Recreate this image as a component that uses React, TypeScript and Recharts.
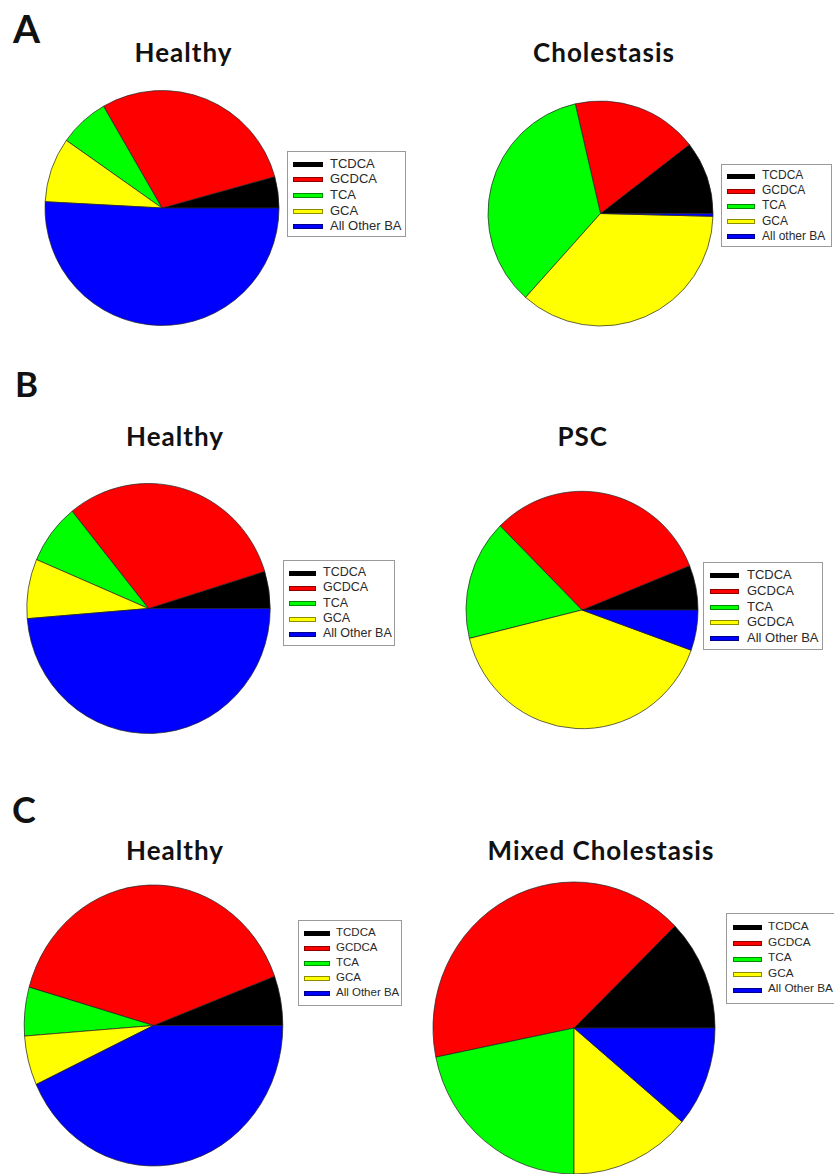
import React from "react";
import { PieChart, Pie, Cell } from "recharts";

// bile acid groups, in drawing order (counter-clockwise from 3 o'clock)
const categories = ["TCDCA", "GCDCA", "TCA", "GCA", "All Other BA"];
const sliceColors = ["#000000", "#FF0000", "#00FF00", "#FFFF00", "#0000FF"];

// legend labels as printed in each panel
const legendDefault = ["TCDCA", "GCDCA", "TCA", "GCA", "All Other BA"];
const legendCholestasis = ["TCDCA", "GCDCA", "TCA", "GCA", "All other BA"];
const legendPsc = ["TCDCA", "GCDCA", "TCA", "GCDCA", "All Other BA"];

// share of total bile acids (%)
const healthyA = [4.3, 29.0, 6.9, 8.9, 50.8];
const cholestasisA = [10.5, 18.1, 34.8, 36.2, 0.4];
const healthyB = [4.8, 31.0, 7.8, 7.7, 48.7];
const pscB = [6.1, 31.4, 16.4, 40.7, 5.5];
const healthyC = [5.7, 39.9, 5.6, 5.7, 43.1];
const mixedC = [12.3, 40.9, 21.8, 13.9, 11.1];

const toRows = (values: number[]) =>
  categories.map((name, i) => ({ name, value: values[i] }));

interface PanelProps {
  values: number[];
  cx: number;
  cy: number;
  rx: number;
  ry: number;
}

function PiePanel({ values, cx, cy, rx, ry }: PanelProps) {
  const size = Math.round(rx * 2 + 6);
  return (
    <div
      style={{
        position: "absolute",
        left: cx - size / 2,
        top: cy - size / 2,
        width: size,
        height: size,
        transform: `scaleY(${ry / rx})`,
        transformOrigin: "50% 50%",
      }}
    >
      <PieChart width={size} height={size}>
        <Pie
          data={toRows(values)}
          dataKey="value"
          nameKey="name"
          cx="50%"
          cy="50%"
          outerRadius={rx}
          startAngle={0}
          endAngle={360}
          stroke="#222"
          strokeWidth={0.7}
          isAnimationActive={false}
        >
          {values.map((_, i) => (
            <Cell key={i} fill={sliceColors[i]} />
          ))}
        </Pie>
      </PieChart>
    </div>
  );
}

interface LegendProps {
  labels: string[];
  x: number;
  y: number;
  w: number;
  h: number;
  first: number;
  step: number;
  swatchX: number;
  swatchW: number;
  textX: number;
  fontSize: number;
}

function LegendBox({ labels, x, y, w, h, first, step, swatchX, swatchW, textX, fontSize }: LegendProps) {
  return (
    <div
      style={{
        position: "absolute",
        left: x,
        top: y,
        width: w,
        height: h,
        border: "1px solid #9a9a9a",
        background: "#fff",
        boxSizing: "border-box",
        fontFamily: "'Liberation Sans', Arial, sans-serif",
        fontSize,
        color: "#2a2a2a",
      }}
    >
      {labels.map((label, i) => (
        <React.Fragment key={i}>
          <div
            style={{
              position: "absolute",
              left: swatchX,
              top: first + i * step - 2.5,
              width: swatchW,
              height: 5,
              background: sliceColors[i],
              border: "1px solid rgba(0,0,0,0.45)",
              boxSizing: "border-box",
            }}
          />
          <div
            style={{
              position: "absolute",
              left: textX,
              top: first + i * step - fontSize * 0.58,
              lineHeight: 1,
              whiteSpace: "nowrap",
            }}
          >
            {label}
          </div>
        </React.Fragment>
      ))}
    </div>
  );
}

const titleFont = "Lato, 'Open Sans', sans-serif";

export default function App() {
  return (
    <div
      style={{
        position: "absolute",
        left: 0,
        top: 0,
        width: 834,
        height: 1174,
        overflow: "hidden",
        background: "#fff",
      }}
    >
      <PiePanel values={healthyA} cx={162} cy={207.5} rx={117} ry={117.5} />
      <PiePanel values={cholestasisA} cx={600.5} cy={213.5} rx={112.5} ry={112.5} />
      <PiePanel values={healthyB} cx={148.3} cy={608} rx={121.7} ry={125} />
      <PiePanel values={pscB} cx={581.8} cy={609.7} rx={116} ry={118.7} />
      <PiePanel values={healthyC} cx={153.3} cy={1025} rx={129.3} ry={140.5} />
      <PiePanel values={mixedC} cx={574} cy={1028} rx={141} ry={146} />

      <LegendBox labels={legendDefault} x={287} y={151} w={119} h={86} first={12.3} step={15.6} swatchX={5} swatchW={30} textX={42} fontSize={13} />
      <LegendBox labels={legendCholestasis} x={721} y={164} w={111} h={83} first={11} step={15.2} swatchX={5} swatchW={28} textX={40} fontSize={12} />
      <LegendBox labels={legendDefault} x={283} y={560} w={112} h={86} first={12.3} step={15.25} swatchX={5} swatchW={27} textX={39} fontSize={12.5} />
      <LegendBox labels={legendPsc} x={703} y={562} w={120} h={88} first={12.7} step={15.7} swatchX={6} swatchW={29} textX={43} fontSize={13} />
      <LegendBox labels={legendDefault} x={298} y={920} w={104} h={86} first={12.7} step={15} swatchX={5} swatchW={26} textX={37} fontSize={11.5} />
      <LegendBox labels={legendDefault} x={726} y={913} w={118} h={91} first={13.7} step={15.65} swatchX={6} swatchW={29} textX={41} fontSize={11.8} />

      <svg
        width={834}
        height={1174}
        style={{ position: "absolute", left: 0, top: 0, pointerEvents: "none" }}
      >
        <g fontFamily={titleFont} fontWeight={700} fill="#111">
          <text x={13} y={43.3} fontSize={39}>A</text>
          <text x={15} y={397.3} fontSize={35}>B</text>
          <text x={12} y={822.7} fontSize={36}>C</text>
        </g>
        <g fontFamily={titleFont} fontWeight={700} fill="#111" fontSize={26} letterSpacing={1} textAnchor="middle">
          <text x={183.5} y={61.7}>Healthy</text>
          <text x={604} y={61.7}>Cholestasis</text>
          <text x={175} y={446}>Healthy</text>
          <text x={582.7} y={446}>PSC</text>
          <text x={175} y={860}>Healthy</text>
          <text x={601} y={860}>Mixed Cholestasis</text>
        </g>
      </svg>
    </div>
  );
}
